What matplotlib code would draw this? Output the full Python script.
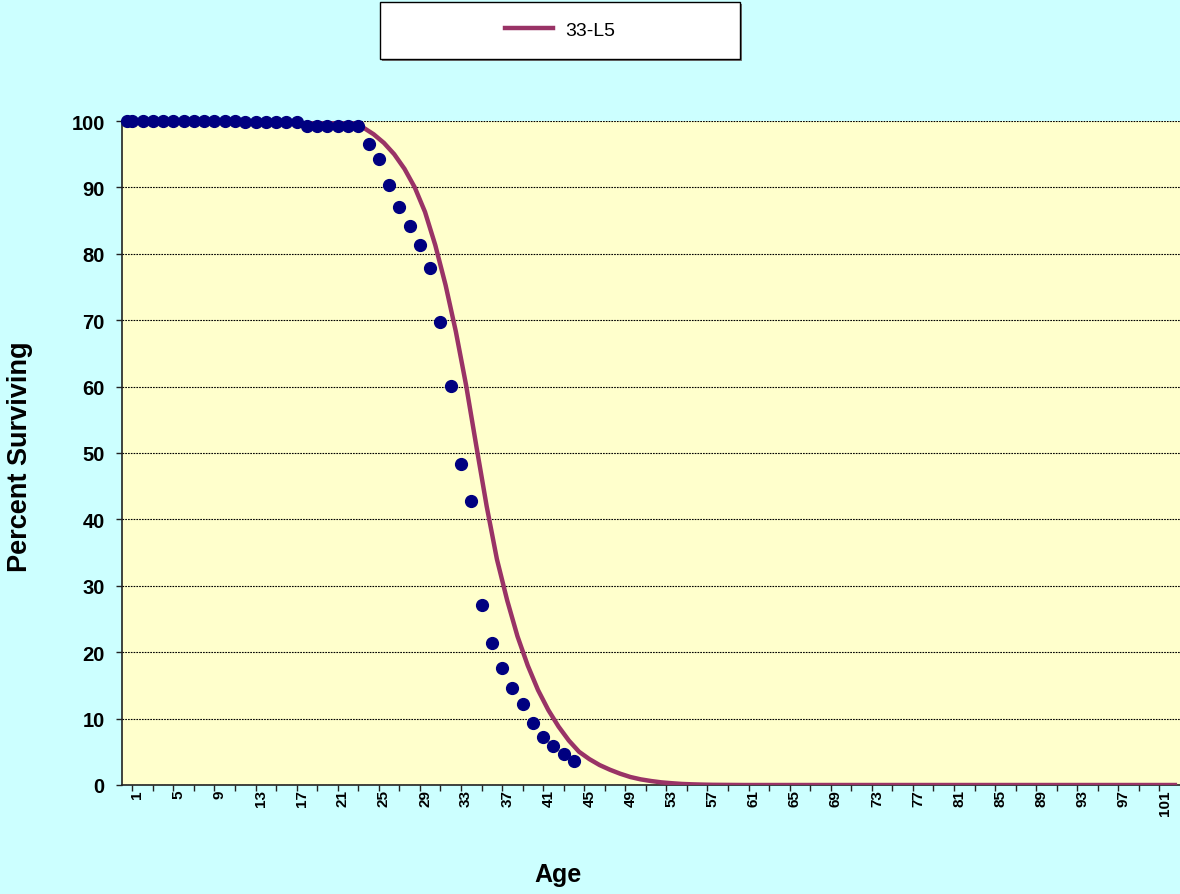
import matplotlib.pyplot as plt
import numpy as np
from matplotlib.patches import Rectangle

plt.rcParams['font.family'] = ['Liberation Sans', 'DejaVu Sans']

# observed survivors (plotted at age interval points)
obs_age = [0] + [i + 0.5 for i in range(44)]
obs_pct = [100.0] * 12 + [99.8] * 6 + [99.3] * 6 + [
    96.5, 94.3, 90.3, 87.1, 84.2, 81.4, 77.9, 69.8, 60.1, 48.3, 42.7,
    27.1, 21.4, 17.6, 14.6, 12.2, 9.3, 7.3, 5.8, 4.6, 3.6]

# 33-L5 Iowa curve, ages 0..102
ages = list(range(103))
curve = [100.0] * 22 + [
    99.7, 99.0, 98.0, 96.7, 95.0, 92.8, 90.0, 86.3, 81.3, 75.3,
    68.3, 60.2, 51.0, 42.0, 34.0, 27.8, 22.4, 18.0, 14.3, 11.3,
    8.8, 6.7, 5.0, 3.9, 3.0, 2.3, 1.7, 1.2, 0.85, 0.6,
    0.4, 0.27, 0.16, 0.1, 0.06, 0.03, 0.02, 0.01]
curve += [0.0] * (103 - len(curve))

xlabels = [str(a) for a in range(1, 102, 4)]

fig = plt.figure(figsize=(11.8, 8.95), dpi=100)
fig.patch.set_facecolor('#CCFFFF')
ax = fig.add_axes([122 / 1180, 1 - 786 / 895, 1058 / 1180, 664 / 895])
ax.set_facecolor('#FFFFCC')

ax.plot(ages, curve, color='#993366', lw=3.2, label='33-L5', zorder=3)
ax.plot(obs_age, obs_pct, 'o', color='#000080', ms=8.5, zorder=4,
        clip_on=False)

ax.set_xlim(-0.5, 102.5)
ax.set_ylim(0, 100)
ax.set_yticks(range(0, 101, 10))
ax.set_yticklabels([str(v) for v in range(0, 101, 10)],
                   fontweight='bold', fontsize=14.5)
ax.set_xticks(range(1, 102, 4))
ax.set_xticklabels(xlabels, rotation=90, fontweight='bold', fontsize=11)
ax.set_xticks(np.arange(0.5, 102.5, 2), minor=True)
ax.tick_params(axis='x', which='major', length=0, pad=3)
ax.tick_params(axis='x', which='minor', length=4.5, width=1, color='#222222')
ax.tick_params(axis='y', length=4.5, width=1, color='#222222', pad=8)

ax.grid(axis='y', color='black', linestyle=(0, (1.5, 1)), linewidth=0.8)
ax.set_axisbelow(True)
for s in ['top', 'right']:
    ax.spines[s].set_visible(False)
for s in ['left', 'bottom']:
    ax.spines[s].set_color('#222222')
    ax.spines[s].set_linewidth(1.2)

fig.text(20 / 1180, 1 - 457 / 895, 'Percent Surviving', rotation=90,
         fontsize=19.5, fontweight='bold', ha='center', va='center')
fig.text(558 / 1180, 1 - 875 / 895, 'Age', fontsize=18,
         fontweight='bold', ha='center', va='center')

# legend box
fig.patches.append(Rectangle((382 / 1180, 1 - 62 / 895), 360 / 1180, 57 / 895,
                             transform=fig.transFigure, facecolor='#777777',
                             edgecolor='none', zorder=1))
fig.patches.append(Rectangle((380 / 1180, 1 - 60 / 895), 360 / 1180, 57 / 895,
                             transform=fig.transFigure, facecolor='white',
                             edgecolor='black', lw=1, zorder=2))
h, l = ax.get_legend_handles_labels()
fig.legend(h, l, loc='center', bbox_to_anchor=(560 / 1180, 1 - 31 / 895),
           frameon=False, fontsize=14, handlelength=2.5, handletextpad=0.6)

fig.savefig('out.png', dpi=100, facecolor=fig.get_facecolor())
